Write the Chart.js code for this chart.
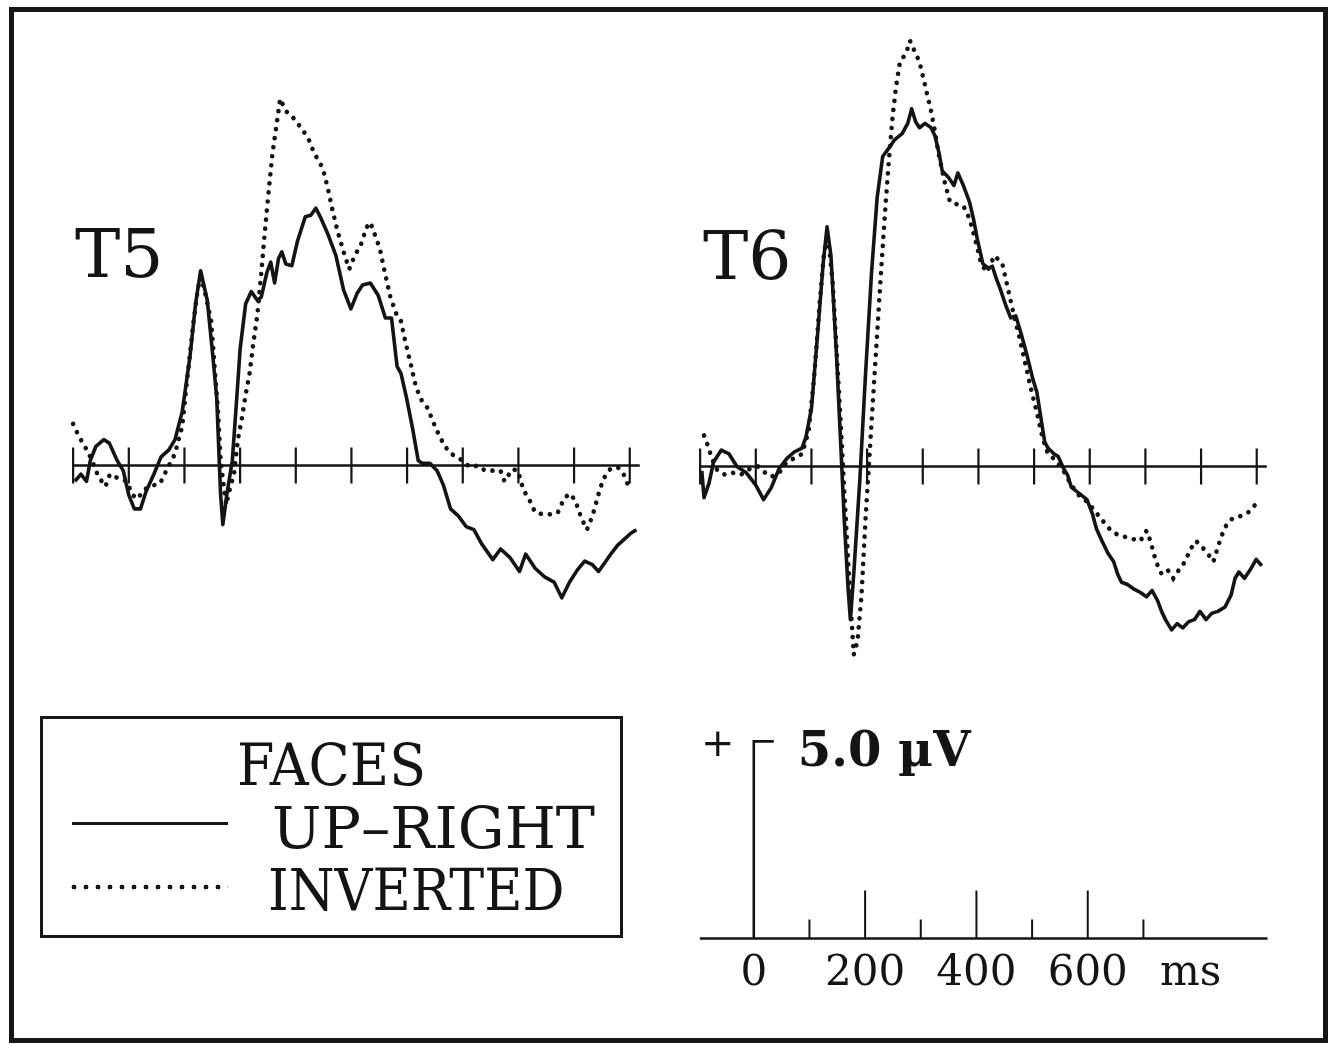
<!DOCTYPE html>
<html>
<head>
<meta charset="utf-8">
<title>T5 / T6 faces ERP</title>
<script src="https://cdn.jsdelivr.net/npm/chart.js@4.4.0/dist/chart.umd.min.js"></script>
<style>
body { margin: 0; background: #fff; }
#page { position: relative; width: 1339px; height: 1044px; overflow: hidden; background: #fff; }
#frame { position: absolute; left: 9px; top: 7px; width: 1309px; height: 1026px; border: 5px solid #161616; }
canvas { position: absolute; }
.lbl { position: absolute; font-family: 'DejaVu Serif', serif; color: #141414; line-height: 1; white-space: nowrap; transform-origin: 0 0; }
#legendBox { position: absolute; left: 40px; top: 716px; width: 577px; height: 216px; border: 3px solid #161616; }
.solidKey { position: absolute; left: 72px; top: 822px; width: 156px; height: 3px; background: #161616; }
.dotKey { position: absolute; left: 68px; top: 884px; width: 160px; height: 6px;
  background-image: radial-gradient(circle, #161616 2.1px, rgba(255,255,255,0) 2.7px);
  background-size: 12px 6px; }
</style>
</head>
<body>
<div id="page">
  <canvas id="chartT5" width="590" height="669" style="left:62px; top:13px;"></canvas>
  <canvas id="chartT6" width="590" height="669" style="left:689px; top:14px;"></canvas>
  <canvas id="chartScale" width="590" height="335" style="left:687px; top:702px;"></canvas>

  <div class="lbl" style="left:75px; top:220px; font-size:68px;">T5</div>
  <div class="lbl" style="left:703px; top:222px; font-size:68px;">T6</div>

  <div id="legendBox"></div>
  <div class="lbl" style="left:237px; top:737px; font-size:57px; transform:scaleX(0.945);">FACES</div>
  <div class="solidKey"></div>
  <div class="lbl" style="left:272px; top:800px; font-size:57px; transform:scaleX(1.03);">UP–RIGHT</div>
  <div class="dotKey"></div>
  <div class="lbl" style="left:268px; top:862px; font-size:57px; transform:scaleX(0.92);">INVERTED</div>

  <div id="frame"></div>
</div>

<script>
// time in ms, amplitude in microvolts (positive up)
var t5UprightMs = [-97,-86,-76,-69,-59,-45,-35,-21,-10,0,10,21,31,45,58,72,83,96,110,120,129,141,151,158,165,169,176,186,194,200,210,220,231,238,248,255,262,269,275,282,293,303,317,327,336,344,358,372,386,399,410,420,434,448,461,472,482,489,499,510,520,527,541,554,565,578,592,606,620,634,654,668,685,702,713,730,747,764,778,792,806,819,833,844,857,868,878,888,902,912];
var t5UprightUv = [-0.40,-0.22,-0.40,0.13,0.49,0.66,0.57,0.13,-0.13,-0.75,-1.10,-1.10,-0.66,-0.22,0.22,0.40,0.66,1.37,2.78,4.11,4.95,4.20,2.78,1.72,-0.75,-1.50,-0.75,0.13,1.72,2.96,4.11,4.42,4.20,4.28,4.90,5.17,4.64,5.26,5.43,5.12,5.08,5.70,6.32,6.36,6.54,6.32,5.87,5.34,4.46,3.98,4.37,4.59,4.64,4.33,3.75,3.75,2.52,2.34,1.72,0.93,0.13,0.06,0.06,-0.13,-0.49,-1.10,-1.28,-1.55,-1.63,-1.99,-2.39,-2.12,-2.34,-2.69,-2.25,-2.61,-2.83,-2.96,-3.36,-2.96,-2.65,-2.43,-2.52,-2.69,-2.43,-2.21,-2.03,-1.90,-1.72,-1.63];

var t5InvertedMs = [-100,-90,-79,-66,-55,-42,-34,-21,-4,7,15,29,45,56,65,83,96,105,115,124,130,137,148,155,160,165,171,175,182,189,196,203,210,217,224,231,237,244,251,258,265,272,282,293,303,313,324,334,344,351,358,366,375,386,396,406,417,427,434,442,451,460,470,481,489,497,506,516,527,537,547,558,568,578,589,599,613,627,640,654,668,675,689,699,709,720,730,744,761,771,782,792,802,813,823,833,840,847,854,865,878,888,894,902];
var t5InvertedUv = [1.06,0.75,0.49,0.13,-0.27,-0.53,-0.22,-0.31,-0.40,-0.75,-0.85,-0.60,-0.50,-0.46,-0.20,0.30,1.00,2.20,3.50,4.50,4.80,4.40,3.67,2.34,1.46,0.13,-0.57,-1.00,-0.57,-0.22,0.66,1.19,1.81,2.34,3.14,3.84,4.73,5.87,6.93,7.91,8.61,9.32,9.01,8.88,8.70,8.52,8.26,7.91,7.69,7.42,7.02,6.49,5.96,5.43,4.99,5.34,5.61,6.05,6.18,5.87,5.52,4.90,4.28,3.84,3.67,3.14,2.61,1.99,1.63,1.46,1.10,0.75,0.49,0.31,0.22,0.13,-0.04,0.00,-0.13,-0.13,-0.13,-0.40,-0.09,-0.13,-0.62,-0.88,-1.19,-1.24,-1.24,-1.19,-0.84,-0.71,-0.88,-1.33,-1.63,-1.28,-0.93,-0.57,-0.31,-0.09,-0.04,-0.18,-0.40,-0.66];

var t6UprightMs = [-97,-93,-84,-76,-62,-48,-34,-17,0,14,28,42,56,69,83,90,100,111,121,128,135,145,152,159,166,170,176,187,197,208,218,228,239,249,263,273,280,287,294,304,315,322,329,335,346,356,363,373,384,391,398,408,418,425,432,439,449,458,467,477,487,498,505,512,519,525,536,543,553,560,567,581,595,605,612,622,633,643,650,657,667,678,691,702,712,722,729,736,747,757,767,778,788,798,809,819,830,843,854,861,868,878,888,899,909];
var t6UprightUv = [-0.11,-0.79,-0.42,0.11,0.42,0.32,0.00,-0.16,-0.47,-0.84,-0.53,-0.05,0.21,0.37,0.47,0.74,1.47,3.36,5.15,6.09,5.36,2.84,0.74,-1.37,-3.15,-3.89,-2.73,-0.32,2.31,4.94,6.83,7.88,8.09,8.30,8.46,8.72,9.09,8.77,8.61,8.72,8.61,8.40,7.98,7.51,7.35,7.14,7.46,7.14,6.72,6.30,5.78,5.15,5.04,5.09,4.78,4.52,4.10,3.78,3.83,3.36,2.84,2.21,1.89,1.26,0.63,0.47,0.32,0.26,-0.05,-0.21,-0.53,-0.68,-0.84,-1.21,-1.58,-1.89,-2.21,-2.42,-2.73,-2.94,-2.99,-3.10,-3.20,-3.31,-3.15,-3.41,-3.68,-3.89,-4.15,-3.99,-4.10,-3.94,-3.89,-3.68,-3.89,-3.73,-3.68,-3.57,-3.26,-2.84,-2.68,-2.84,-2.63,-2.36,-2.52];

var t6InvertedMs = [-93,-86,-79,-69,-55,-41,-27,-10,4,17,28,42,55,69,83,95,105,115,123,130,138,145,152,159,166,172,176,183,190,197,204,211,218,225,232,239,246,252,259,270,277,287,294,301,308,315,322,328,339,349,360,373,384,394,405,415,429,443,453,463,474,484,494,505,515,525,539,553,567,581,595,608,619,629,638,650,664,677,691,702,709,719,729,740,750,760,771,781,791,802,812,822,829,836,846,857,871,885,895,906];
var t6InvertedUv = [0.79,0.53,0.21,-0.10,-0.21,-0.16,-0.21,-0.05,0.00,-0.16,-0.26,-0.16,0.10,0.21,0.32,0.90,2.30,4.20,5.50,5.80,4.70,3.00,1.26,-0.63,-2.42,-3.89,-4.78,-4.41,-3.26,-1.37,0.21,1.79,3.36,4.94,6.41,7.77,8.93,9.66,10.29,10.50,10.82,10.50,10.29,9.87,9.45,9.03,8.51,7.98,7.25,6.72,6.67,6.62,6.30,5.78,5.15,4.94,5.36,5.15,4.52,3.89,3.26,2.63,2.00,1.37,0.74,0.32,0.16,-0.11,-0.47,-0.74,-0.89,-1.10,-1.31,-1.47,-1.63,-1.73,-1.79,-1.84,-1.89,-1.63,-1.89,-2.42,-2.73,-2.63,-2.84,-2.63,-2.42,-2.10,-1.89,-2.05,-2.21,-2.42,-2.10,-1.79,-1.47,-1.31,-1.26,-1.16,-1.00,-0.89];

// axis ticks on the waveform baselines
var baselineTicksMs = [-100, 0, 100, 200, 300, 400, 500, 600, 700, 800, 900];
// calibration panel
var scaleMajorMs = [200, 400, 600];
var scaleMinorMs = [100, 300, 500, 700];
var scaleLabels = ['0', '200', '400', '600'];
var scaleLabelMs = [0, 200, 400, 600];
var scaleBarUv = 5.0;

var ink = '#141414';

function pairs(ms, uv) {
    return ms.map(function(t, i) { return {x: t, y: uv[i]}; });
}

// baseline with tick marks crossing it
var baselinePlugin = {
    id: 'baseline',
    beforeDatasetsDraw: function(chart, args, opts) {
        var ctx = chart.ctx;
        var xs = chart.scales.x, ys = chart.scales.y;
        var y0 = ys.getPixelForValue(0);
        ctx.save();
        ctx.strokeStyle = ink;
        ctx.lineWidth = 2.6;
        ctx.beginPath();
        ctx.moveTo(xs.getPixelForValue(opts.from), y0);
        ctx.lineTo(xs.getPixelForValue(opts.to), y0);
        ctx.stroke();
        ctx.lineWidth = 2.2;
        ctx.beginPath();
        opts.ticks.forEach(function(t) {
            var px = xs.getPixelForValue(t);
            ctx.moveTo(px, y0 - 18);
            ctx.lineTo(px, y0 + 18);
        });
        ctx.stroke();
        ctx.restore();
    }
};

function makeErpChart(id, upMs, upUv, invMs, invUv) {
    var ctx = document.getElementById(id).getContext('2d');
    return new Chart(ctx, {
        type: 'line',
        data: {
            datasets: [{
                label: 'UP-RIGHT',
                data: pairs(upMs, upUv),
                borderColor: ink,
                borderWidth: 3.6,
                borderJoinStyle: 'round',
                pointRadius: 0,
                tension: 0,
                clip: false
            }, {
                label: 'INVERTED',
                data: pairs(invMs, invUv),
                borderColor: ink,
                borderWidth: 4.6,
                borderDash: [0.1, 9],
                borderCapStyle: 'round',
                pointRadius: 0,
                tension: 0,
                clip: false
            }]
        },
        options: {
            responsive: false,
            animation: false,
            events: [],
            layout: { padding: 0 },
            scales: {
                x: { type: 'linear', min: -120, max: 940, display: false },
                y: { min: -5.5, max: 11.5, display: false }
            },
            plugins: {
                legend: { display: false },
                tooltip: { enabled: false },
                baseline: { from: -100, to: 918, ticks: baselineTicksMs }
            }
        },
        plugins: [baselinePlugin]
    });
}

var t5Chart = makeErpChart('chartT5', t5UprightMs, t5UprightUv, t5InvertedMs, t5InvertedUv);
var t6Chart = makeErpChart('chartT6', t6UprightMs, t6UprightUv, t6InvertedMs, t6InvertedUv);

// calibration bar: time axis and 5 uV bar
var calibrationPlugin = {
    id: 'calibration',
    afterDraw: function(chart) {
        var ctx = chart.ctx;
        var xs = chart.scales.x, ys = chart.scales.y;
        var y0 = ys.getPixelForValue(0);
        var x0 = xs.getPixelForValue(0);
        var yTop = ys.getPixelForValue(scaleBarUv);
        ctx.save();
        ctx.strokeStyle = ink;
        ctx.fillStyle = ink;
        ctx.lineWidth = 2.4;
        ctx.beginPath();
        ctx.moveTo(xs.getPixelForValue(-97), y0);
        ctx.lineTo(xs.getPixelForValue(923), y0);
        ctx.stroke();
        // amplitude bar with small cap
        ctx.lineWidth = 2.6;
        ctx.beginPath();
        ctx.moveTo(x0, y0);
        ctx.lineTo(x0, yTop);
        ctx.lineTo(x0 + 20, yTop);
        ctx.stroke();
        // ticks pointing up
        ctx.lineWidth = 2;
        ctx.beginPath();
        scaleMajorMs.forEach(function(t) {
            var px = xs.getPixelForValue(t);
            ctx.moveTo(px, y0); ctx.lineTo(px, y0 - 48);
        });
        scaleMinorMs.forEach(function(t) {
            var px = xs.getPixelForValue(t);
            ctx.moveTo(px, y0); ctx.lineTo(px, y0 - 19);
        });
        ctx.stroke();
        // labels
        ctx.font = "42px 'DejaVu Serif'";
        ctx.textAlign = 'center';
        ctx.textBaseline = 'alphabetic';
        scaleLabels.forEach(function(s, i) {
            ctx.fillText(s, xs.getPixelForValue(scaleLabelMs[i]), y0 + 47);
        });
        ctx.fillText('ms', xs.getPixelForValue(785), y0 + 47);
        ctx.font = "40px 'DejaVu Serif'";
        ctx.textBaseline = 'middle';
        ctx.fillText('+', x0 - 36, yTop + 4);
        ctx.font = "bold 48px 'DejaVu Serif'";
        ctx.textAlign = 'left';
        ctx.textBaseline = 'alphabetic';
        ctx.fillText('5.0 \u00b5V', x0 + 44, yTop + 25);
        ctx.restore();
    }
};

var scaleChart = new Chart(document.getElementById('chartScale').getContext('2d'), {
    type: 'line',
    data: { datasets: [] },
    options: {
        responsive: false,
        animation: false,
        events: [],
        layout: { padding: 0 },
        scales: {
            x: { type: 'linear', min: -120, max: 940, display: false },
            y: { min: -2.5, max: 6, display: false }
        },
        plugins: { legend: { display: false }, tooltip: { enabled: false } }
    },
    plugins: [calibrationPlugin]
});
</script>
</body>
</html>
